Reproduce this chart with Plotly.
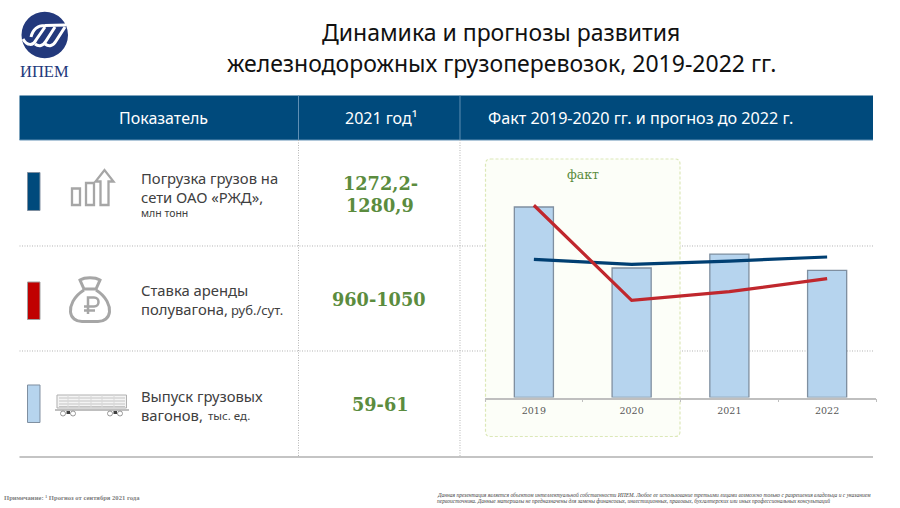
import plotly.graph_objects as go

W, H = 900, 508

years = ['2019', '2020', '2021', '2022']
wagons = [79.0, 53.7, 59.5, 52.7]
loading = [1285, 1239, 1269, 1307]
rate = [1826, 923, 1005, 1129]

title_lines = ['Динамика и прогнозы развития', 'железнодорожных грузоперевозок, 2019-2022 гг.']
headers = ['Показатель', '2021 год¹', 'Факт 2019-2020 гг. и прогноз до 2022 г.']
forecast_values = [['1272,2-', '1280,9'], ['960-1050'], ['59-61']]
note = 'Примечание: ¹ Прогноз от сентября 2021 года'
legal = [
    'Данная презентация является объектом интеллектуальной собственности ИПЕМ. Любое ее использование третьими лицами возможно только с разрешения владельца и с указанием',
    'первоисточника. Данные материалы не предназначены для замены финансовых, инвестиционных, правовых, бухгалтерских или иных профессиональных консультаций',
]

NAVY = '#004A7C'
RED = '#C0272D'
GREEN = '#5B8C3E'
GRAY = '#A6A6A6'
TEXT = '#404040'
SANS = 'Noto Sans'
SERIF = 'DejaVu Serif'
THIN = 'Liberation Serif'
FINE_DOT = '1px,1.5px'

shapes = []
notes = []


def px(x):
    return x / W


def py(y):
    return 1 - y / H


def path(d):
    # absolute pixel path -> paper coordinates
    out = []
    is_x = True
    for tok in d.split():
        if tok.isalpha():
            out.append(tok)
            is_x = True
        else:
            out.append(f'{px(float(tok)):.5f}' if is_x else f'{py(float(tok)):.5f}')
            is_x = not is_x
    return ' '.join(out)


def add_path(d, line=None, width=0, fill=None, dash='solid'):
    shapes.append(dict(type='path', xref='paper', yref='paper', path=path(d), layer='below',
                       line=dict(color=line or 'rgba(0,0,0,0)', width=width, dash=dash),
                       fillcolor=fill or 'rgba(0,0,0,0)'))


def add_rect(x0, y0, x1, y1, fill=None, line=None, width=0):
    add_path(f'M {x0} {y0} L {x1} {y0} L {x1} {y1} L {x0} {y1} Z', line, width, fill)


def add_line(x0, y0, x1, y1, color, width=1, dash='solid'):
    add_path(f'M {x0} {y0} L {x1} {y1}', color, width, None, dash)


def add_text(x, y, text, size, color=TEXT, family=SANS, anchor='left', bold=False, italic=False):
    if bold:
        text = f'<b>{text}</b>'
    if italic:
        text = f'<i>{text}</i>'
    notes.append(dict(x=px(x), y=py(y), xref='paper', yref='paper', text=text, showarrow=False,
                      xanchor=anchor, yanchor='middle', align=anchor,
                      font=dict(size=size, color=color, family=family)))


# logo
shapes.append(dict(type='circle', xref='paper', yref='paper', layer='below',
                   x0=px(21.5), x1=px(68), y0=py(58.3), y1=py(11.7),
                   fillcolor='#23397C', line=dict(width=0)))
add_path('M 31 37 C 33 29 37 25.5 45 25.5 L 66 25', 'white', 3)
add_path('M 23 39 C 27 46 33 46 36 40 L 45 27', 'white', 3)
add_path('M 35 44 C 39 47 43 46 46 41 L 55 27', 'white', 3)
add_path('M 45 44 C 49 47 53 46 56 41 L 65 27', 'white', 3)
add_text(44.7, 72, 'ИПЕМ', 16.5, '#23397C', THIN, 'center')

# title
add_text(500.5, 32, title_lines[0], 23, '#111111', SANS, 'center')
add_text(501, 63, title_lines[1], 23, '#111111', SANS, 'center')

# table header
add_rect(19.5, 95.5, 873, 140, NAVY)
add_line(19.5, 140, 873, 140, '#5F8FB4', 1)
add_line(298.5, 95.5, 298.5, 140, '#5F8FB4', 1)
add_line(460, 95.5, 460, 140, '#5F8FB4', 1)
add_text(163, 118, headers[0], 16, 'white', SANS, 'center')
add_text(381, 118, headers[1], 16, 'white', SANS, 'center')
add_text(485.5, 118, headers[2], 16.15, 'white', SANS)

# table rules
add_line(298.5, 140, 298.5, 457, '#B4B4B4', 1, FINE_DOT)
add_line(460, 140, 460, 457, '#B4B4B4', 1, FINE_DOT)
add_line(19.5, 246, 873, 246, '#B4B4B4', 1, FINE_DOT)
add_line(19.5, 351, 873, 351, '#B4B4B4', 1, FINE_DOT)
add_line(19.5, 457, 873, 457, '#B0B0B0', 1.5)

# legend swatches
add_rect(27.5, 172.5, 40, 210.5, NAVY, '#7F8FA0', 1)
add_rect(27.5, 282, 40, 319.5, '#C00000', '#A0A0A0', 1)
add_rect(27.5, 385, 40, 422.5, '#B6D4EE', '#7F8FA0', 1)

# icon: growing bars
add_rect(72, 188.5, 80, 205, None, GRAY, 2.3)
add_rect(86, 183, 94, 205, None, GRAY, 2.3)
add_path('M 100.5 205 L 100.5 181.5 L 95.5 181.5 L 104.5 170 L 113.5 181.5 L 108.5 181.5 L 108.5 205 Z', GRAY, 2.3)

# icon: money bag
add_path('M 84 290 C 73 297 70 306 70.5 312 C 71 318 76 321.5 82 321.5 L 98 321.5 '
         'C 104 321.5 109 318 109.5 312 C 110 306 107 297 96 290', GRAY, 3)
add_path('M 84 289 L 96 289 L 100 280 C 95 277 85 277 80 280 Z', GRAY, 3)
add_path('M 88 314 L 88 297.5 L 94 297.5 C 100 297.5 100 306.5 94 306.5 L 84 306.5', GRAY, 2.5)
add_line(84, 310.5, 95, 310.5, GRAY, 2.5)

# icon: wagon
add_rect(57, 395, 126.5, 408, '#F4F4F4', '#B0B0B0', 1)
for slat in [398, 401, 404, 406.5]:
    add_line(59, slat, 125, slat, '#C4C4C4', 1)
for post in [68, 79, 91, 102, 114]:
    add_line(post, 395, post, 408, '#D8D8D8', 1)
add_line(55, 410, 129, 410, '#808080', 1.2)
for wheel in [63, 73, 110, 120]:
    shapes.append(dict(type='circle', xref='paper', yref='paper', layer='below',
                       x0=px(wheel - 2.5), x1=px(wheel + 2.5), y0=py(411), y1=py(416),
                       fillcolor='white', line=dict(color='#808080', width=0.8)))
add_rect(66.5, 411, 70, 414, '#404040')
add_rect(113.5, 411, 117, 414, '#404040')

# row labels
add_text(139, 178, 'Погрузка грузов на', 14.8)
add_text(139, 197, 'сети ОАО «РЖД»,', 14.8)
add_text(139, 213, 'млн тонн', 10.5)
add_text(139, 290, 'Ставка аренды', 14.8)
add_text(139, 309, 'полувагона,', 14.8)
add_text(229, 309.5, 'руб./сут.', 13)
add_text(139, 396, 'Выпуск грузовых', 14.8)
add_text(139, 415, 'вагонов,', 14.8)
add_text(206, 415.5, 'тыс. ед.', 11.5)

# forecast values
add_text(380, 183, forecast_values[0][0], 17.7, GREEN, SERIF, 'center', bold=True)
add_text(380, 205.5, forecast_values[0][1], 17.7, GREEN, SERIF, 'center', bold=True)
add_text(379, 299.5, forecast_values[1][0], 17.7, GREEN, SERIF, 'center', bold=True)
add_text(380, 404, forecast_values[2][0], 17.7, GREEN, SERIF, 'center', bold=True)

# fact band
add_path('M 490.5 159 L 675 159 Q 680 159 680 164 L 680 431.5 Q 680 436.5 675 436.5 L 490.5 436.5 '
         'Q 485.5 436.5 485.5 431.5 L 485.5 164 Q 485.5 159 490.5 159 Z',
         '#DCE8B8', 1.2, '#FCFEF8', '3px,2px')
add_text(583, 174, 'факт', 12.5, GREEN, SERIF, 'center')

# footer
add_text(2, 497, note, 6.6, '#808080', THIN, bold=True)
add_text(435, 494.5, legal[0], 5.5, '#404040', THIN, italic=True)
add_text(435, 500.5, legal[1], 5.5, '#404040', THIN, italic=True)

fig = go.Figure()
fig.add_trace(go.Bar(x=years, y=wagons, width=0.4,
                     marker=dict(color='#B6D4EE', line=dict(color='#7F8FA0', width=1.3))))
fig.add_trace(go.Scatter(x=years, y=loading, yaxis='y2', mode='lines',
                         line=dict(color='#003F72', width=3.2)))
fig.add_trace(go.Scatter(x=years, y=rate, yaxis='y3', mode='lines',
                         line=dict(color=RED, width=3.2)))

fig.update_layout(
    width=W,
    height=H,
    autosize=False,
    margin=dict(l=0, r=0, t=0, b=0),
    paper_bgcolor='white',
    plot_bgcolor='rgba(0,0,0,0)',
    showlegend=False,
    shapes=shapes,
    annotations=notes,
    xaxis=dict(domain=[px(485), px(876)], range=[-0.5, 3.5], type='category',
               tickson='boundaries', ticks='outside', ticklen=3, tickcolor='#BFBFBF',
               showline=True, linecolor='#BFBFBF', linewidth=1.5, showgrid=False,
               ticklabelstandoff=3, tickfont=dict(size=9.5, color='#595959', family=SERIF)),
    yaxis=dict(domain=[py(397.5), py(160)], range=[0, 98.5], visible=False),
    yaxis2=dict(domain=[py(397.5), py(160)], range=[0, 2209], overlaying='y', visible=False),
    yaxis3=dict(domain=[py(397.5), py(160)], range=[0, 2256], overlaying='y', visible=False),
)

fig.write_html('out.html', config=dict(displayModeBar=False),
               post_script='document.body.style.margin = "0";')
